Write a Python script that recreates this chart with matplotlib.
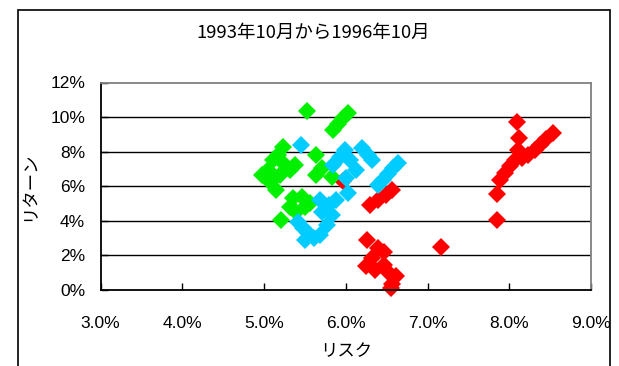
import matplotlib
matplotlib.use('Agg')
import matplotlib.pyplot as plt
from matplotlib.patches import Rectangle
from matplotlib.ticker import FuncFormatter

# risk (x, %) / return (y, %) for the three series
red_risk = [5.97, 6.30, 6.40, 6.49, 6.56, 6.26, 6.40, 6.47, 6.32, 6.25, 6.36, 6.47,
            6.52, 6.62, 6.57, 6.55, 7.16, 7.85, 7.85, 7.89, 7.95, 8.01, 8.07, 8.11,
            8.12, 8.09, 8.16, 8.23, 8.31, 8.38, 8.45, 8.53]
red_ret = [6.31, 4.92, 5.21, 5.50, 5.79, 2.89, 2.43, 2.20, 1.85, 1.39, 1.16, 1.45,
           1.04, 0.81, 0.35, 0.12, 2.49, 4.05, 5.56, 6.37, 6.77, 7.18, 7.52, 8.10,
           8.80, 9.72, 7.64, 7.81, 8.10, 8.39, 8.74, 9.09]

green_risk = [5.53, 5.85, 5.91, 5.97, 6.03, 5.23, 5.17, 5.11, 5.05, 4.98, 5.07, 5.15,
              5.32, 5.38, 5.26, 5.20, 5.63, 5.63, 5.71, 5.83, 5.36, 5.47, 5.32, 5.50,
              5.21, 5.39, 5.56]
green_ret = [10.36, 9.26, 9.61, 9.95, 10.24, 8.28, 7.81, 7.52, 6.94, 6.66, 6.25, 5.79,
             6.94, 7.23, 7.23, 6.66, 7.81, 6.66, 7.06, 6.54, 5.32, 5.38, 4.80, 4.80,
             4.05, 4.51, 5.03]

blue_risk = [5.45, 5.85, 5.93, 5.99, 6.05, 6.12, 6.20, 6.27, 6.32, 6.00, 6.03, 6.40,
             6.46, 6.52, 6.58, 6.64, 5.69, 5.79, 5.71, 5.83, 5.41, 5.48, 5.54, 5.61,
             5.69, 5.50, 5.77, 5.88]
blue_ret = [8.39, 7.23, 7.70, 8.10, 7.52, 6.94, 8.22, 7.81, 7.52, 6.48, 5.61, 6.08,
            6.37, 6.71, 7.06, 7.35, 5.21, 4.92, 4.51, 4.34, 3.94, 3.59, 3.30, 3.01,
            3.18, 2.89, 3.76, 5.21]

x_ticks = [3.0, 4.0, 5.0, 6.0, 7.0, 8.0, 9.0]
y_ticks = [0, 2, 4, 6, 8, 10, 12]

title = '1993年10月から1996年10月'
num_font = ['Liberation Sans', 'DejaVu Sans']
jp_font = ['Noto Sans CJK JP', 'DejaVu Sans']

fig = plt.figure(figsize=(6.19, 3.66), dpi=100)
ax = fig.add_axes([100.5 / 619, 1 - 290 / 366, 490.5 / 619, 207.5 / 366])

# outer chart frame (bottom edge runs off the picture)
fig.patches.append(Rectangle((18 / 619, -0.1), 592 / 619, 1.1 - 10 / 366,
                             transform=fig.transFigure, fill=False,
                             edgecolor='black', linewidth=1.2))

for risk, ret, col in [(red_risk, red_ret, '#ff0000'),
                       (green_risk, green_ret, '#00f000'),
                       (blue_risk, blue_ret, '#00ccff')]:
    ax.plot(risk, ret, linestyle='none', marker='D', markersize=9,
            markeredgewidth=0, color=col, clip_on=False)

ax.set_xlim(3.0, 9.0)
ax.set_ylim(0, 12)
ax.set_xticks(x_ticks)
ax.set_yticks(y_ticks)
ax.xaxis.set_major_formatter(FuncFormatter(lambda v, p: f'{v:.1f}%'))
ax.yaxis.set_major_formatter(FuncFormatter(lambda v, p: f'{v:.0f}%'))

for y in y_ticks[1:-1]:
    ax.axhline(y, color='black', linewidth=1, zorder=0)

ax.spines['left'].set_color('black')
ax.spines['bottom'].set_color('black')
ax.spines['left'].set_linewidth(1.3)
ax.spines['bottom'].set_linewidth(1.3)
ax.spines['top'].set_color('#808080')
ax.spines['right'].set_color('#808080')
ax.spines['top'].set_linewidth(1.3)
ax.spines['right'].set_linewidth(1.3)

ax.tick_params(axis='x', direction='in', length=5, width=1, pad=19)
ax.tick_params(axis='y', direction='in', length=5, width=1, pad=11)
for lab in ax.get_xticklabels() + ax.get_yticklabels():
    lab.set_family(num_font)
    lab.set_fontsize(12.5)

ax.set_xlabel('リスク', family=jp_font, fontsize=12.5, labelpad=8)
ax.set_ylabel('リターン', family=jp_font, fontsize=12.5, labelpad=9)
fig.text(313 / 619, 1 - 33 / 366, title, family=jp_font, fontsize=13.3,
         ha='center', va='center')

fig.savefig('out.png', dpi=100)
